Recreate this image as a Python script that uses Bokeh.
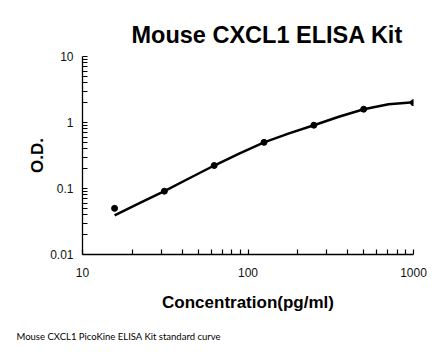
from bokeh.plotting import figure
from bokeh.models import Range1d, FixedTicker, CustomJSTickFormatter, Title
from bokeh.embed import file_html
from bokeh.resources import INLINE

# data
conc = [15.625, 31.25, 62.5, 125, 250, 500, 1000]
od = [0.050, 0.091, 0.223, 0.50, 0.91, 1.59, 2.00]

curve_x = [15.625, 22.1, 31.25, 44.2, 62.5, 88.4, 125, 177, 250, 354, 500, 707, 1000]
curve_y = [0.039, 0.060, 0.091, 0.143, 0.223, 0.338, 0.50, 0.685, 0.91, 1.22, 1.59, 1.89, 2.02]

x_ticks = [10, 100, 1000]
y_ticks = [0.01, 0.1, 1, 10]

title_text = "Mouse CXCL1 ELISA Kit"
x_label = "Concentration(pg/ml)"
y_label = "O.D."
footnote = "Mouse CXCL1 PicoKine ELISA Kit standard curve"


def minor_for(ticks):
    out = []
    for t in ticks[:-1]:
        out += [t * k for k in range(2, 10)]
    return out


p = figure(width=446, height=356, x_axis_type="log", y_axis_type="log",
           output_backend="svg", toolbar_location=None,
           x_range=Range1d(10, 1000), y_range=Range1d(0.01, 10),
           min_border_left=82, min_border_right=33, min_border_top=56,
           min_border_bottom=102)
p.outline_line_color = None
p.xgrid.visible = False
p.ygrid.visible = False
p.background_fill_color = "white"
p.border_fill_color = "white"

p.title.text = title_text
p.title.text_font = "Liberation Sans"
p.title.text_font_style = "bold"
p.title.text_font_size = "23.5px"
p.title.align = "left"
p.title.offset = 49
p.title.standoff = 17
p.title.text_color = "black"

fmt = CustomJSTickFormatter(code="return String(Number(tick.toPrecision(6)));")

for ax, ticks in ((p.xaxis[0], x_ticks), (p.yaxis[0], y_ticks)):
    ax.ticker = FixedTicker(ticks=ticks, minor_ticks=minor_for(ticks))
    ax.formatter = fmt
    ax.major_tick_in = 5
    ax.major_tick_out = 0
    ax.minor_tick_in = 5
    ax.minor_tick_out = 0
    ax.axis_line_width = 1.3
    ax.axis_line_color = "black"
    ax.major_tick_line_color = "black"
    ax.minor_tick_line_color = "black"
    ax.major_tick_line_width = 1.2
    ax.minor_tick_line_width = 1.2
    ax.major_label_text_font = "Liberation Sans"
    ax.major_label_text_font_size = "12px"
    ax.major_label_text_color = "#111111"
    ax.axis_label_text_font = "Liberation Sans"
    ax.axis_label_text_font_style = "bold"
    ax.axis_label_text_font_size = "17px"
    ax.axis_label_text_color = "black"

p.xaxis.axis_label = x_label
p.yaxis.axis_label = y_label
p.xaxis.major_label_standoff = 13
p.xaxis.axis_label_standoff = 13
p.yaxis.major_label_standoff = 9
p.yaxis.axis_label_standoff = 0

p.line(curve_x, curve_y, line_color="black", line_width=2.5)
p.scatter(conc, od, size=6, color="black")

note = Title(text=footnote, align="left", text_font="Lato", text_font_size="9.5px",
             text_font_style="normal", text_color="black", offset=-66, standoff=28)
p.add_layout(note, "below")

open("out.html", "w").write(file_html(p, INLINE))
